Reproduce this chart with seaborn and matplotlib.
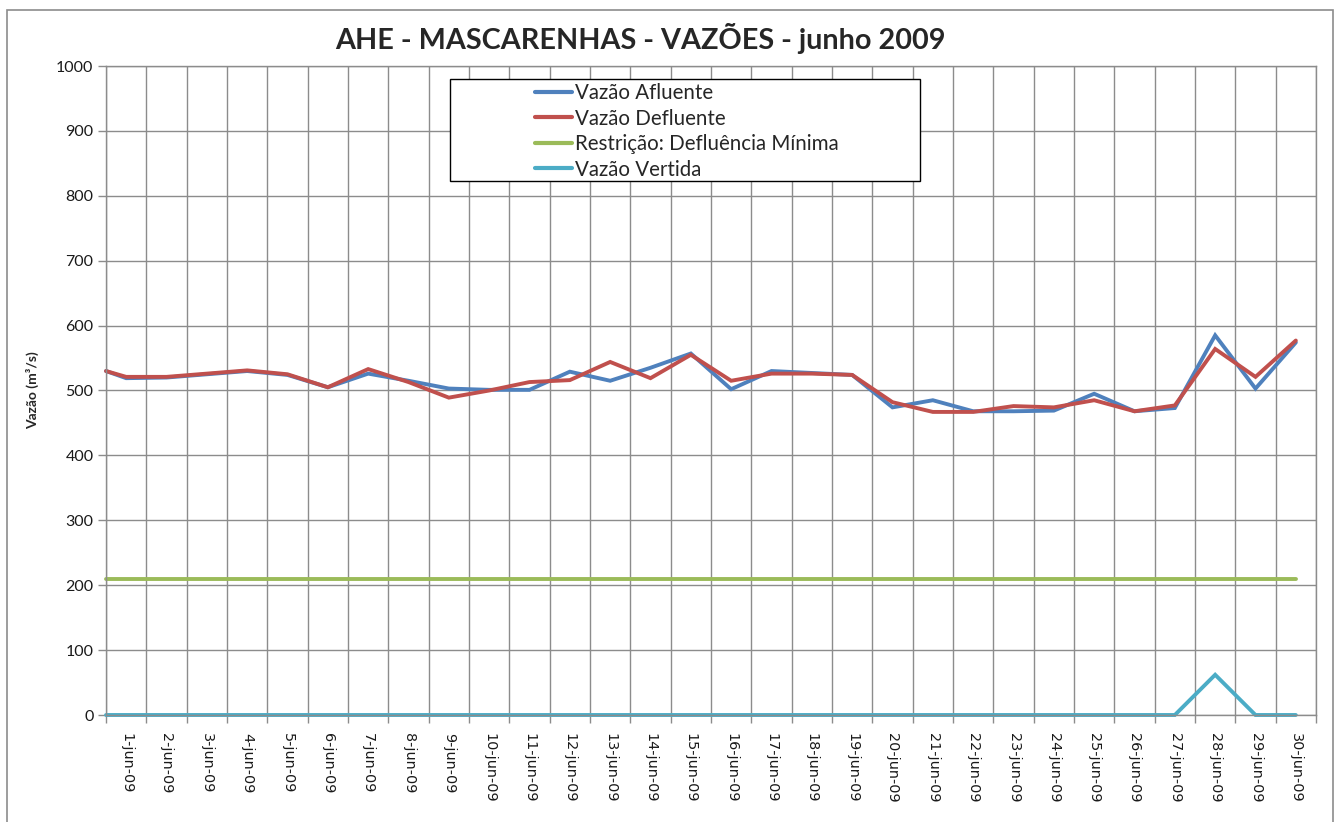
import seaborn as sns
import matplotlib.pyplot as plt
import matplotlib.patches as patches
import pandas as pd
import numpy as np

# dados (m3/s)
dias = ["1-jun-09", "2-jun-09", "3-jun-09", "4-jun-09", "5-jun-09", "6-jun-09",
        "7-jun-09", "8-jun-09", "9-jun-09", "10-jun-09", "11-jun-09", "12-jun-09",
        "13-jun-09", "14-jun-09", "15-jun-09", "16-jun-09", "17-jun-09", "18-jun-09",
        "19-jun-09", "20-jun-09", "21-jun-09", "22-jun-09", "23-jun-09", "24-jun-09",
        "25-jun-09", "26-jun-09", "27-jun-09", "28-jun-09", "29-jun-09", "30-jun-09"]

afluente = [519, 520, 525, 530, 524, 505, 526, 515, 503, 501, 501, 529, 515, 535, 557,
            502, 530, 527, 524, 474, 485, 468, 468, 469, 495, 468, 473, 585, 503, 574]
defluente = [521, 521, 526, 531, 525, 505, 533, 513, 489, 500, 513, 516, 544, 519, 555,
             515, 526, 526, 524, 482, 467, 467, 476, 474, 485, 468, 477, 564, 521, 577]
restricao = [209, 209, 209, 209, 209, 209, 209, 209, 209, 209, 209, 209, 209, 209, 209,
             209, 209, 209, 209, 209, 209, 209, 209, 209, 209, 209, 209, 209, 209, 209]
vertida = [0, 0, 0, 0, 0, 0, 0, 0, 0, 0, 0, 0, 0, 0, 0,
           0, 0, 0, 0, 0, 0, 0, 0, 0, 0, 0, 0, 62, 0, 0]

# valor no inicio do eixo (antes de 1-jun)
inicio = [530, 530, 209, 0]

series = ["Vazão Afluente", "Vazão Defluente", "Restrição: Defluência Mínima", "Vazão Vertida"]
cores = ["#4F81BD", "#C0504D", "#9BBB59", "#4BACC6"]

linhas = []
for nome, vals, v0 in zip(series, [afluente, defluente, restricao, vertida], inicio):
    linhas.append(pd.DataFrame({"pos": [-0.5], "vazao": [v0], "serie": nome}))
    linhas.append(pd.DataFrame({"pos": np.arange(len(dias)), "vazao": vals, "serie": nome}))
df = pd.concat(linhas, ignore_index=True)

sns.set_theme(style="white")
plt.rcParams['font.family'] = ['Lato', 'DejaVu Sans']

cinza = "#8C8C8C"
fig = plt.figure(figsize=(13.38, 8.22), dpi=100)
ax = fig.add_axes([106 / 1338, 1 - 715 / 822, 1210 / 1338, 649 / 822])

sns.lineplot(data=df, x="pos", y="vazao", hue="serie", hue_order=series,
             palette=cores, linewidth=2.8, estimator=None, sort=True, ax=ax)
for ln in ax.get_lines():
    ln.set_clip_on(False)
    ln.set_solid_joinstyle("miter")

ax.set_xlim(-0.5, len(dias) - 0.5)
ax.set_ylim(0, 1000)
ax.set_xlabel("")
ax.set_ylabel("")

ax.set_xticks(np.arange(len(dias)))
ax.set_xticklabels(dias, rotation=-90, ha="center", va="top",
                   fontfamily="DejaVu Sans", fontsize=10.4, color="#1a1a1a")
ax.set_xticks(np.arange(-0.5, len(dias), 1), minor=True)
ax.tick_params(axis="x", which="major", length=0, pad=13, bottom=True)
ax.tick_params(axis="x", which="minor", length=6, width=1, color=cinza, bottom=True)
ax.set_yticks(range(0, 1001, 100))
ax.tick_params(axis="y", length=6, width=1, color=cinza, left=True, labelsize=11.5,
               pad=3, labelcolor="#1a1a1a")

ax.grid(True, which="minor", axis="x", color=cinza, linewidth=1)
ax.grid(True, which="major", axis="y", color=cinza, linewidth=1)
ax.grid(False, which="major", axis="x")
for s in ax.spines.values():
    s.set_color(cinza)
    s.set_linewidth(1)

# legenda
h, l = ax.get_legend_handles_labels()
ax.get_legend().remove()
for hh in h:
    hh.set_linewidth(3)
leg = fig.legend(h, l, loc="upper left", bbox_to_anchor=(535 / 1338, 1 - 83 / 822),
                 frameon=False, fontsize=14.8, handlelength=1.8, handletextpad=0.15,
                 labelspacing=0.27, borderpad=0, borderaxespad=0)
fig.patches.append(patches.Rectangle((450 / 1338, 1 - 181 / 822), 470 / 1338, 102 / 822,
                                     transform=fig.transFigure, facecolor="white",
                                     edgecolor="black", linewidth=1, zorder=2))
leg.set_zorder(3)

# borda do grafico
fig.patches.append(patches.Rectangle((7 / 1338, -0.02), 1326 / 1338, 1.02 - 10 / 822,
                                     transform=fig.transFigure, fill=False,
                                     edgecolor=cinza, linewidth=1.2))

fig.text(640 / 1338, 1 - 38 / 822, "AHE - MASCARENHAS - VAZÕES - junho 2009",
         ha="center", va="center", fontsize=20.7, fontweight="bold")
fig.text(33 / 1338, 1 - 390 / 822, "Vazão (m³/s)", rotation=90, ha="center",
         va="center", fontsize=10, fontweight="bold")

fig.savefig("out.png", dpi=100)
